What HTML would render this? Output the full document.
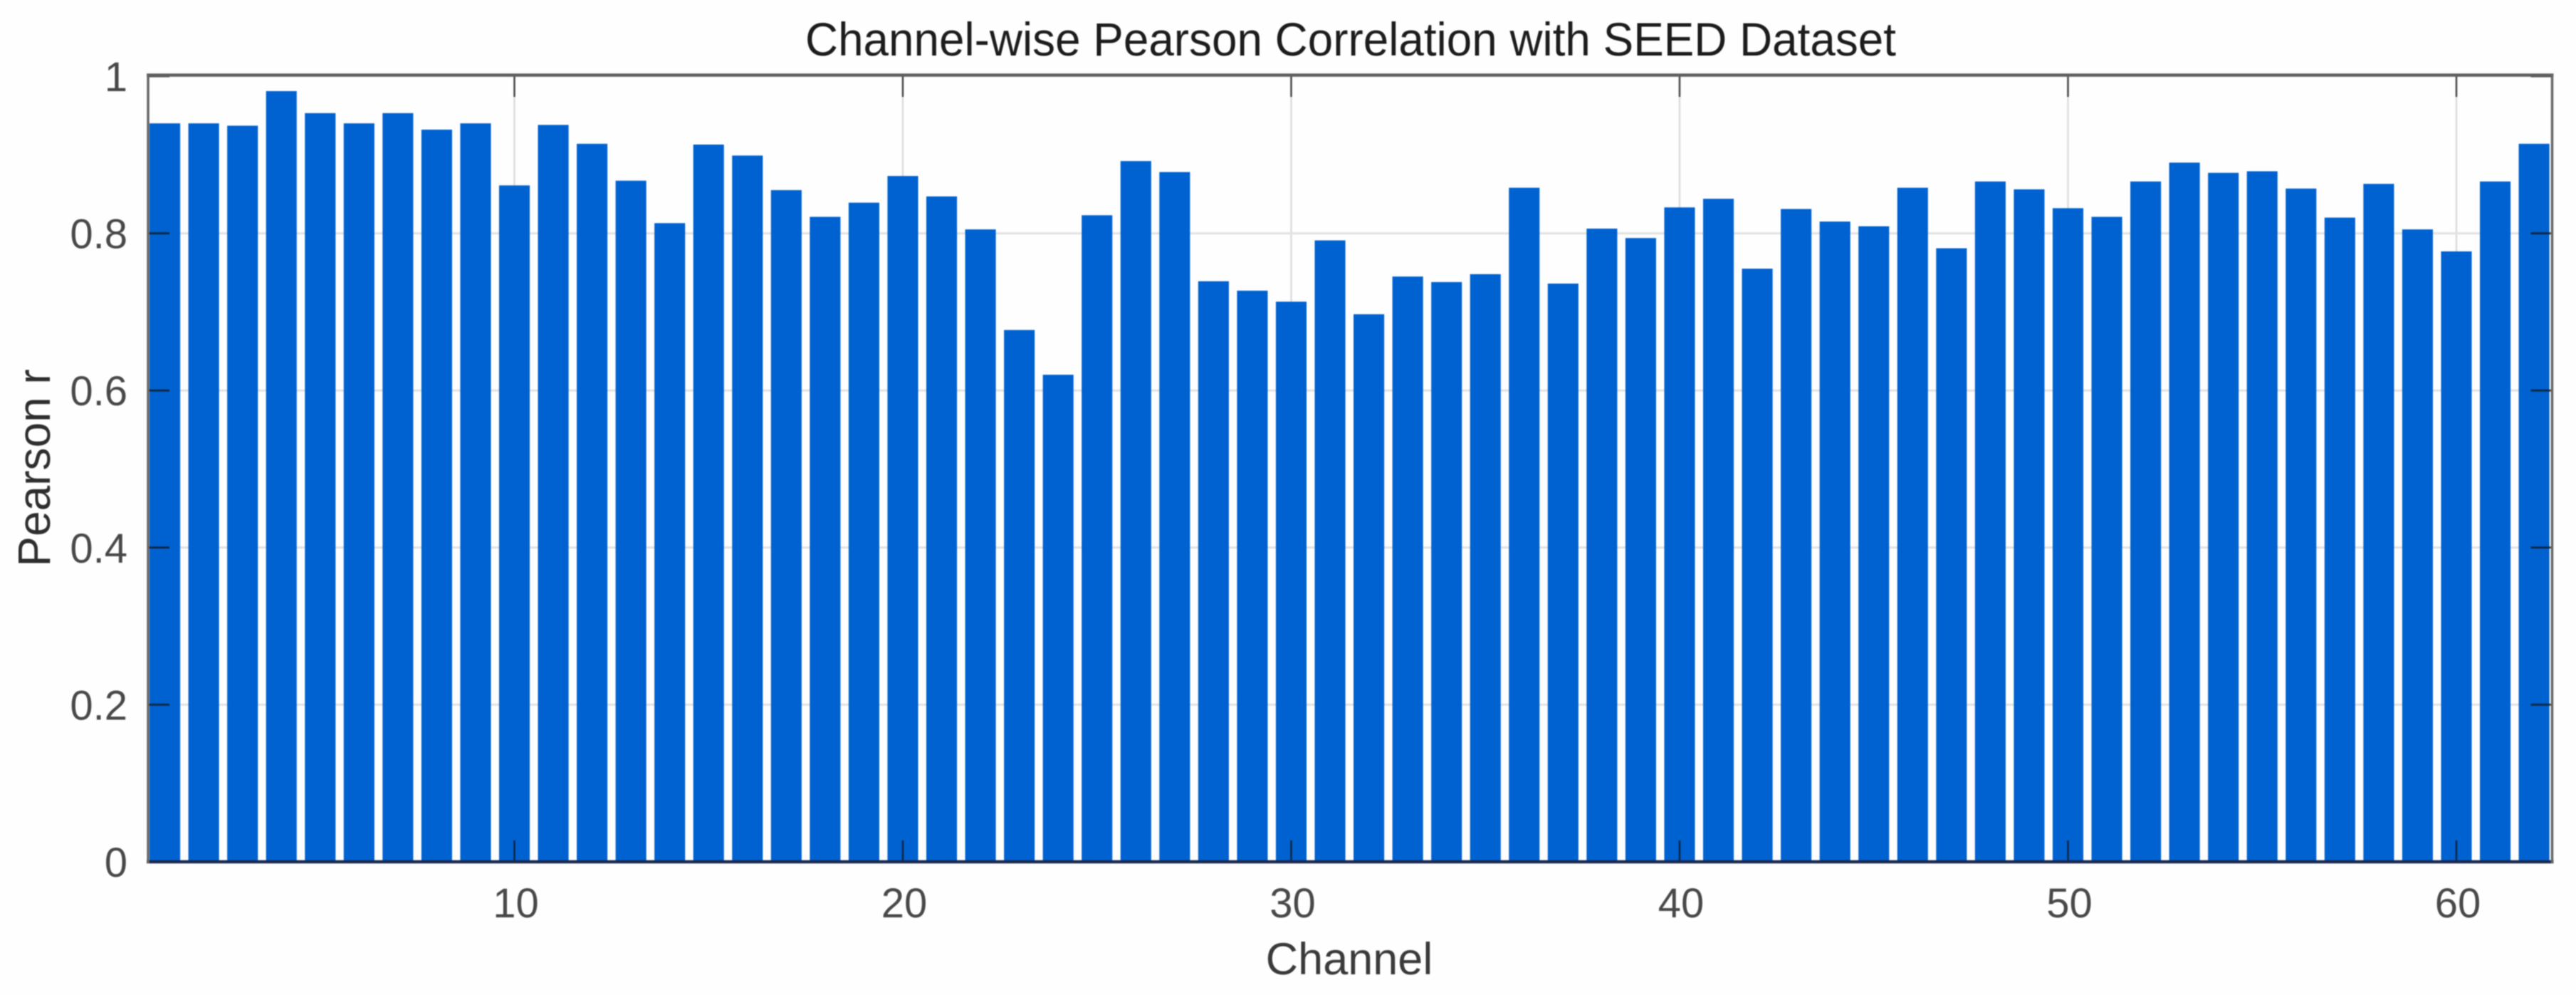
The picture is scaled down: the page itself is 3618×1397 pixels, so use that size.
<!DOCTYPE html>
<html lang="en">
<head>
<meta charset="utf-8">
<title>Channel-wise Pearson Correlation with SEED Dataset</title>
<style>
  html, body { margin: 0; padding: 0; background: #fefefe; }
  body { width: 3618px; height: 1397px; overflow: hidden; }
  svg { display: block; filter: blur(0.9px); font-family: "Liberation Sans", Arial, sans-serif; }
</style>
</head>
<body>
<svg id="chart" xmlns="http://www.w3.org/2000/svg" width="3618" height="1397" viewBox="0 0 3618 1397">
  <rect x="0" y="0" width="3618" height="1397" fill="#fefefe"/>
  <g id="grid"></g>
  <g id="bars"></g>
  <g id="ticks"></g>
  <g id="frame"></g>
  <g id="xlabels"></g>
  <g id="ylabels"></g>
  <text x="1897" y="78" font-size="66" fill="#1c1c1c" text-anchor="middle" textLength="1532" lengthAdjust="spacingAndGlyphs">Channel-wise Pearson Correlation with SEED Dataset</text>
  <text x="1895" y="1368" font-size="63" fill="#3a3a3a" text-anchor="middle">Channel</text>
  <text transform="translate(70 657) rotate(-90)" font-size="64" fill="#2e2e2e" text-anchor="middle">Pearson r</text>
</svg>
<script>
const channels = [1,2,3,4,5,6,7,8,9,10,11,12,13,14,15,16,17,18,19,20,21,22,23,24,25,26,27,28,29,30,31,32,33,34,35,36,37,38,39,40,41,42,43,44,45,46,47,48,49,50,51,52,53,54,55,56,57,58,59,60,61,62];
const pearsonValues = [0.940,0.940,0.937,0.981,0.953,0.940,0.953,0.932,0.940,0.861,0.938,0.914,0.867,0.813,0.913,0.899,0.855,0.821,0.839,0.873,0.847,0.805,0.677,0.620,0.823,0.892,0.878,0.739,0.727,0.713,0.791,0.697,0.745,0.738,0.748,0.858,0.736,0.806,0.794,0.833,0.844,0.755,0.831,0.815,0.809,0.858,0.781,0.866,0.856,0.832,0.821,0.866,0.890,0.877,0.879,0.857,0.820,0.863,0.805,0.777,0.866,0.914];
const xTickValues = [10,20,30,40,50,60];
const yTickValues = [0,0.2,0.4,0.6,0.8,1];
const yTickLabels = ['0','0.2','0.4','0.6','0.8','1'];

const SVG_NS = 'http://www.w3.org/2000/svg';
const plot = { left: 208, right: 3584.5, top: 106, bottom: 1210 };
const xAt = function (c) { return 722.5 + (c - 10) * 54.55; };
const yAt = function (v) { return plot.bottom - v * 1103; };
const barWidth = 0.79 * 54.55;

function make(tag, parentId) {
  const el = document.createElementNS(SVG_NS, tag);
  document.getElementById(parentId).appendChild(el);
  return el;
}
function setLine(el, x1, y1, x2, y2, stroke, width, opacity) {
  el.setAttribute('x1', x1);
  el.setAttribute('y1', y1);
  el.setAttribute('x2', x2);
  el.setAttribute('y2', y2);
  el.setAttribute('stroke', stroke);
  el.setAttribute('stroke-width', width);
  if (opacity !== undefined) el.setAttribute('stroke-opacity', opacity);
}

xTickValues.forEach(function (c) {
  const g = make('line', 'grid');
  
  
  setLine(g, xAt(c), plot.top, xAt(c), plot.bottom, '#dcdcdc', 2.5);
});
yTickValues.forEach(function (v) {
  if (v === 0 || v === 1) return;
  const g = make('line', 'grid');
  
  
  setLine(g, plot.left, yAt(v), plot.right, yAt(v), '#e2e2e2', 3);
});

channels.forEach(function (c, i) {
  const bar = make('rect', 'bars');
  
  
  bar.setAttribute('x', xAt(c) - barWidth / 2);
  bar.setAttribute('y', yAt(pearsonValues[i]));
  bar.setAttribute('width', barWidth);
  bar.setAttribute('height', plot.bottom - yAt(pearsonValues[i]));
  bar.setAttribute('fill', '#0062d0');
});

xTickValues.forEach(function (c) {
  const top = make('line', 'ticks');
  
  
  setLine(top, xAt(c), plot.top, xAt(c), plot.top + 30, '#222', 2.5, 0.8);
  const bottom = make('line', 'ticks');
  
  
  setLine(bottom, xAt(c), plot.bottom - 30, xAt(c), plot.bottom, '#111', 2.5, 0.75);
  const label = make('text', 'xlabels');
  
  
  label.setAttribute('x', xAt(c) + 2);
  label.setAttribute('y', 1288);
  label.setAttribute('font-size', 58);
  label.setAttribute('fill', '#484848');
  label.setAttribute('text-anchor', 'middle');
  label.textContent = String(c);
});

yTickValues.forEach(function (v, i) {
  const left = make('line', 'ticks');
  
  
  setLine(left, plot.left, yAt(v), plot.left + 30, yAt(v), '#111', 3, 0.7);
  const right = make('line', 'ticks');
  
  
  setLine(right, plot.right - 30, yAt(v), plot.right, yAt(v), '#111', 3, 0.7);
  const label = make('text', 'ylabels');
  
  
  label.setAttribute('x', 179);
  label.setAttribute('y', yAt(v) + 21);
  label.setAttribute('font-size', 58);
  label.setAttribute('fill', '#484848');
  label.setAttribute('text-anchor', 'end');
  label.textContent = yTickLabels[i];
});

const topAxis = make('line', 'frame');


setLine(topAxis, plot.left - 2, 105.5, plot.right + 2, 105.5, '#5e5e5e', 4.5);
const bottomAxis = make('line', 'frame');


setLine(bottomAxis, plot.left - 2, 1210, plot.right + 2, 1210, '#1a2a50', 4.5);
const leftAxis = make('line', 'frame');


setLine(leftAxis, plot.left, 104, plot.left, 1212, '#666', 3.5);
const rightAxis = make('line', 'frame');


setLine(rightAxis, plot.right, 104, plot.right, 1212, '#666', 3.5);
</script>
</body>
</html>
